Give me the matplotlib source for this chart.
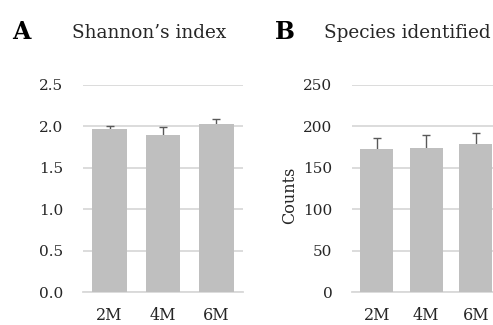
import matplotlib
matplotlib.use("Agg")
import matplotlib.pyplot as plt

categories = ["2M", "4M", "6M"]
shannon_mean = [1.97, 1.90, 2.03]
shannon_err = [0.04, 0.09, 0.055]
species_mean = [172.5, 174, 178.5]
species_err = [13, 15.5, 13.5]
shannon_ticks = [0.0, 0.5, 1.0, 1.5, 2.0, 2.5]
species_ticks = [0, 50, 100, 150, 200, 250]

W, H = 493, 325
fig = plt.figure(figsize=(W / 100, H / 100), dpi=100)
plt.rcParams['font.family'] = ['DejaVu Serif']

BAR = "#bfbfbf"
GRID = "#d9d9d9"
ERR = "#595959"
TXT = "#262626"

def make_axes(left, right, top, bottom):
    return fig.add_axes([left / W, (H - bottom) / H, (right - left) / W, (bottom - top) / H])

def style(ax, vals, errs, ticks, labels, width):
    x = range(len(categories))
    ax.bar(x, vals, width=width, color=BAR, zorder=3)
    ax.errorbar(x, vals, yerr=errs, fmt="none",
                ecolor=ERR, elinewidth=1.0, capsize=3, capthick=1.0, zorder=2, clip_on=False)
    ax.set_xlim(-0.5, len(categories) - 0.5)
    ax.set_ylim(ticks[0], ticks[-1])
    ax.set_yticks(ticks)
    ax.set_yticklabels(labels)
    ax.set_xticks(list(x))
    ax.set_xticklabels(categories)
    for s in ["top", "right", "left"]:
        ax.spines[s].set_visible(False)
    ax.spines["bottom"].set_color(GRID)
    ax.spines["bottom"].set_linewidth(1.3)
    ax.spines["bottom"].set_zorder(1)
    ax.grid(axis="y", color=GRID, linewidth=1.3, zorder=0)
    ax.set_axisbelow(True)
    ax.tick_params(axis="both", length=0, colors=TXT)
    ax.tick_params(axis="y", pad=14, labelsize=11)
    ax.tick_params(axis="x", pad=11, labelsize=11.5)

axA = make_axes(83, 243, 85, 292)
style(axA, shannon_mean, shannon_err, shannon_ticks, [f"{t:.1f}" for t in shannon_ticks], 0.65)

axB = make_axes(352, 500.5, 85, 292)
style(axB, species_mean, species_err, species_ticks, [str(t) for t in species_ticks], 0.67)

fig.text(12 / W, 1 - 32 / H, "A", fontsize=17, fontweight="bold", va="center", ha="left", color="black")
fig.text(72 / W, 1 - 33 / H, "Shannon’s index", fontsize=13.3, va="center", ha="left", color=TXT)
fig.text(275 / W, 1 - 32 / H, "B", fontsize=17, fontweight="bold", va="center", ha="left", color="black")
fig.text(324 / W, 1 - 33 / H, "Species identified", fontsize=13.3, va="center", ha="left", color=TXT)
fig.text(290 / W, 1 - 195 / H, "Counts", fontsize=11.5, rotation=90, va="center", ha="center", color=TXT)

fig.savefig("out.png", dpi=100)
